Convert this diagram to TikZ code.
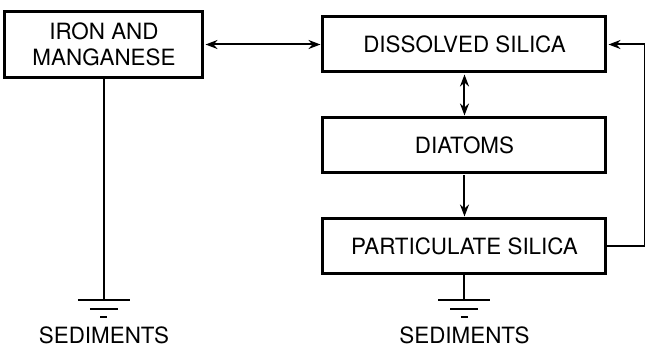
\documentclass[tikz,border=0pt]{standalone}
\usepackage{fontspec}
\setmainfont{TeX Gyre Heros}
\usepackage{tikz}
\usetikzlibrary{arrows.meta,positioning}

\newcommand{\sedground}[1]{%
  \draw ([xshift=-13pt]#1) -- ([xshift=13pt]#1);
  \draw ([xshift=-7pt,yshift=-4.5pt]#1) -- ([xshift=7pt,yshift=-4.5pt]#1);
  \draw ([xshift=-1.75pt,yshift=-8.5pt]#1) -- ([xshift=1.75pt,yshift=-8.5pt]#1);}

\begin{document}
\begin{tikzpicture}[>={Stealth[length=6pt,width=4.5pt]},line width=1pt,node distance=21.5pt,
      box node/.style={rectangle,draw,line width=1.5pt,minimum width=141.5pt,
        minimum height=27.5pt,inner sep=2pt,align=center,
        font=\fontsize{11.2}{13}\selectfont},
      sed node/.style={inner sep=0pt,font=\fontsize{11.2}{13}\selectfont}]
    \useasboundingbox (0,0) rectangle (322.5pt,-174pt);

    \node[box node] (dissolved) at (232.25pt,-22.25pt) {DISSOLVED SILICA};
    \node[box node] (diatoms) [below=of dissolved] {DIATOMS};
    \node[box node] (particulate) [below=of diatoms] {PARTICULATE SILICA};
    \node[box node,minimum width=99pt,minimum height=33pt] (iron)
      [left=58.5pt of dissolved] {IRON AND\\MANGANESE};

    % ground symbols
    \coordinate (gnd1) at (iron.south |- 0,-150pt);
    \coordinate (gnd2) at (particulate.south |- gnd1);
    \sedground{gnd1}
    \sedground{gnd2}
    \node[sed node] (sed1) [below=13pt of gnd1] {SEDIMENTS};
    \node[sed node] (sed2) [below=13pt of gnd2] {SEDIMENTS};

    \path[shorten >=0.5pt,shorten <=0.5pt]
    (iron) edge[<->] (dissolved)
    (dissolved) edge[<->] (diatoms)
    (diatoms) edge[->] (particulate);
    \draw[->,shorten >=0.5pt] (particulate.east) -- ++(19pt,0) |- (dissolved.east);
    \draw (iron) -- (gnd1);
    \draw (particulate) -- (gnd2);
\end{tikzpicture}
\end{document}
